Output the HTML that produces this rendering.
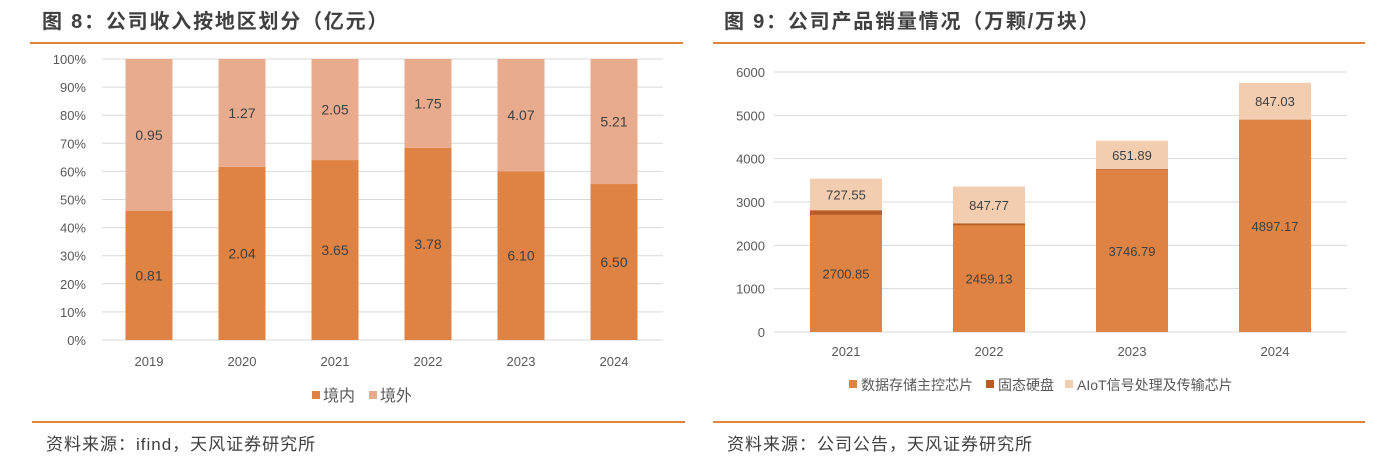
<!DOCTYPE html>
<html><head><meta charset="utf-8"><style>
html,body{margin:0;padding:0;background:#fff;width:1385px;height:458px;overflow:hidden}
svg text{font-family:"Liberation Sans","Noto Sans CJK SC",sans-serif}
</style></head><body>
<svg id="root" width="1385" height="458" xmlns="http://www.w3.org/2000/svg">
<text x="42" y="28" font-size="20" font-weight="bold" fill="#404040" letter-spacing="1.8">图 8：公司收入按地区划分（亿元）</text>
<line x1="30" y1="43" x2="683" y2="43" stroke="#e0843c" stroke-width="2"/>
<text x="724" y="28" font-size="20" font-weight="bold" fill="#404040" letter-spacing="1.8">图 9：公司产品销量情况（万颗/万块）</text>
<line x1="713" y1="43" x2="1365" y2="43" stroke="#e0843c" stroke-width="2"/>
<g id="left"></g><g id="right"></g>
<line x1="32" y1="422" x2="685" y2="422" stroke="#e0843c" stroke-width="2"/>
<text x="46" y="450" font-size="17" fill="#404040" letter-spacing="1">资料来源：ifind，天风证券研究所</text>
<line x1="713" y1="422" x2="1365" y2="422" stroke="#e0843c" stroke-width="2"/>
<text x="727" y="450" font-size="17" fill="#404040" letter-spacing="1">资料来源：公司公告，天风证券研究所</text>
</svg>
<script>
const years1=["2019","2020","2021","2022","2023","2024"];
const domestic=[0.81,2.04,3.65,3.78,6.10,6.50];
const overseas=[0.95,1.27,2.05,1.75,4.07,5.21];
const pctTicks=[0,10,20,30,40,50,60,70,80,90,100];
const years2=["2021","2022","2023","2024"];
const storage=[2700.85,2459.13,3746.79,4897.17];
const ssd=[110,50,15,5];
const aiot=[727.55,847.77,651.89,847.03];
const valTicks=[0,1000,2000,3000,4000,5000,6000];
const NS="http://www.w3.org/2000/svg";
function mk(p,tag,a,txt){const e=document.createElementNS(NS,tag);for(const k in a)e.setAttribute(k,a[k]);if(txt!==undefined)e.textContent=txt;p.appendChild(e);return e;}
// left
const L=document.getElementById('left');
const ly=v=>340-v*(340-59)/100, lx=i=>149+i*93;
pctTicks.forEach(t=>{
 const g=mk(L,'line',{x1:102,x2:663,y1:ly(t),y2:ly(t),stroke:'#d9d9d9','stroke-width':1});
 
 
 const tx=mk(L,'text',{x:86,y:ly(t)+5,'font-size':13,fill:'#595959','text-anchor':'end'},t+'%');
 
 
});
years1.forEach((y,i)=>{
 const tot=domestic[i]+overseas[i], p=domestic[i]/tot*100;
 const b1=mk(L,'rect',{x:lx(i)-23.5,y:ly(p),width:47,height:340-ly(p),fill:'#df8344'});
 
 
 const b2=mk(L,'rect',{x:lx(i)-23.5,y:ly(100),width:47,height:ly(p)-ly(100),fill:'#e8ab8e'});
 
 
 const t1=mk(L,'text',{x:lx(i),y:ly(p/2)+5,'font-size':14,fill:'#404040','text-anchor':'middle'},domestic[i].toFixed(2));
 
 
 const t2=mk(L,'text',{x:lx(i),y:ly((p+100)/2)+5,'font-size':14,fill:'#404040','text-anchor':'middle'},overseas[i].toFixed(2));
 
 
 const xl=mk(L,'text',{x:lx(i),y:366,'font-size':13,fill:'#595959','text-anchor':'middle'},y);
 
 
});
[['#df8344','境内',312],['#e8ab8e','境外',369]].forEach(([c,n,x])=>{
 const g=mk(L,'g',{});
 
 
 mk(g,'rect',{x:x,y:391,width:8,height:8,fill:c});
 mk(g,'text',{x:x+11,y:401,'font-size':16,fill:'#595959'},n);
});
// right
const R=document.getElementById('right');
const ry=v=>332-v*(332-72)/6000, rx=i=>846+i*143;
valTicks.forEach(t=>{
 const g=mk(R,'line',{x1:774,x2:1347,y1:ry(t),y2:ry(t),stroke:'#d9d9d9','stroke-width':1});
 
 
 const tx=mk(R,'text',{x:765,y:ry(t)+5,'font-size':13,fill:'#595959','text-anchor':'end'},t);
 
 
});
years2.forEach((y,i)=>{
 const a=storage[i],b=a+ssd[i],c=b+aiot[i];
 const r1=mk(R,'rect',{x:rx(i)-36,y:ry(a),width:72,height:ry(0)-ry(a),fill:'#df8344'});
 
 
 const r2=mk(R,'rect',{x:rx(i)-36,y:ry(b),width:72,height:ry(a)-ry(b),fill:'#b85d24'});
 
 
 const r3=mk(R,'rect',{x:rx(i)-36,y:ry(c),width:72,height:ry(b)-ry(c),fill:'#f3cdb0'});
 
 
 const t1=mk(R,'text',{x:rx(i),y:ry(a/2)+5,'font-size':13,fill:'#404040','text-anchor':'middle'},storage[i].toFixed(2));
 
 
 const t3=mk(R,'text',{x:rx(i),y:ry((b+c)/2)+5,'font-size':13,fill:'#404040','text-anchor':'middle'},aiot[i].toFixed(2));
 
 
 const xl=mk(R,'text',{x:rx(i),y:356,'font-size':13,fill:'#595959','text-anchor':'middle'},y);
 
 
});
[['#df8344','数据存储主控芯片',849,'storage'],['#b85d24','固态硬盘',986,'ssd'],['#f3cdb0','AIoT信号处理及传输芯片',1065,'aiot']].forEach(([c,n,x,k])=>{
 const g=mk(R,'g',{});
 
 
 mk(g,'rect',{x:x,y:380,width:8,height:8,fill:c});
 mk(g,'text',{x:x+12,y:390,'font-size':14,fill:'#595959'},n);
});
</script>
</body></html>
